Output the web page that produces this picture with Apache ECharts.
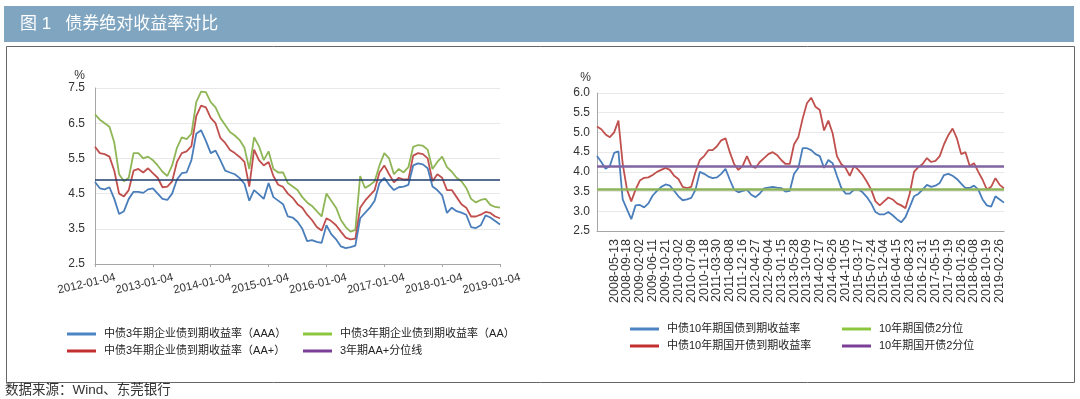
<!DOCTYPE html>
<html>
<head>
<meta charset="utf-8">
<script src="https://cdn.jsdelivr.net/npm/echarts@6/dist/echarts.min.js"></script>
<style>
html, body { margin: 0; padding: 0; background: #fff; }
#main { width: 1080px; height: 399px; }
</style>
</head>
<body>
<div id="main"></div>
<script>
const FONT = '"Liberation Sans", "Noto Sans CJK SC", sans-serif';

//----------- Left chart data (monthly, 2012-01 .. 2019-01)
const yearTicks = ["2012-01-04", "2013-01-04", "2014-01-04", "2015-01-04",
                   "2016-01-04", "2017-01-04", "2018-01-04", "2019-01-04"];
const corpAAA = [4.83,4.65,4.62,4.68,4.35,3.92,4.0,4.35,4.55,4.55,
                 4.52,4.62,4.65,4.5,4.35,4.32,4.5,4.9,5.08,5.1,
                 5.45,6.2,6.3,6.0,5.65,5.72,5.45,5.15,5.1,5.05,
                 4.94,4.78,4.3,4.6,4.48,4.35,4.8,4.4,4.3,4.2,
                 3.85,3.82,3.7,3.5,3.15,3.18,3.13,3.1,3.6,3.35,
                 3.2,3.0,2.95,2.98,3.02,3.8,3.95,4.1,4.3,4.8,
                 4.95,4.75,4.6,4.68,4.7,4.75,5.3,5.36,5.33,5.22,
                 4.7,4.6,4.45,3.95,4.1,4.0,3.96,3.9,3.55,3.52,
                 3.6,3.88,3.82,3.72,3.62];
const corpAA = [6.75,6.6,6.5,6.4,5.95,5.05,4.85,4.95,5.65,5.65,
                5.5,5.55,5.45,5.3,5.12,5.0,5.3,5.8,6.1,6.05,
                6.2,7.1,7.4,7.38,7.1,6.95,6.65,6.45,6.25,6.15,
                6.02,5.8,5.2,6.1,5.85,5.45,5.7,5.2,5.1,5.1,
                4.8,4.7,4.6,4.4,4.25,4.15,4.0,3.85,4.5,4.3,
                4.1,3.75,3.55,3.42,3.47,5.0,4.66,4.74,4.85,5.3,
                5.65,5.5,5.05,5.2,5.1,5.25,5.83,5.88,5.86,5.75,
                5.2,5.4,5.55,5.25,5.12,4.95,4.85,4.66,4.35,4.25,
                4.32,4.35,4.18,4.12,4.1];
const corpAAplus = [5.83,5.65,5.62,5.55,5.15,4.5,4.42,4.6,5.15,5.2,
                    5.1,5.22,5.08,4.95,4.68,4.7,4.85,5.4,5.65,5.7,
                    5.85,6.7,7.0,6.95,6.65,6.5,6.08,5.94,5.74,5.65,
                    5.54,5.4,4.7,5.75,5.45,5.3,5.4,5.0,4.75,4.69,
                    4.5,4.38,4.2,4.1,3.9,3.75,3.55,3.45,3.8,3.72,
                    3.6,3.42,3.25,3.2,3.22,4.1,4.3,4.45,4.6,5.1,
                    5.3,5.05,4.82,4.95,4.9,4.9,5.58,5.65,5.62,5.5,
                    4.85,5.05,4.95,4.6,4.6,4.4,4.2,4.1,3.85,3.85,
                    3.9,3.98,3.95,3.85,3.8];
const aaPlusQuantile = 4.88;

//----------- Right chart data (2008 .. 2019)
const bondTicks = ["2008-05-13","2008-09-18","2009-02-02","2009-06-11","2009-10-21",
                   "2010-03-02","2010-07-09","2010-11-18","2011-03-30","2011-08-08",
                   "2011-12-16","2012-04-27","2012-09-04","2013-01-15","2013-05-28",
                   "2013-10-09","2014-02-17","2014-06-26","2014-11-05","2015-03-17",
                   "2015-07-24","2015-12-04","2016-04-15","2016-08-23","2016-12-31",
                   "2017-05-15","2017-09-19","2018-01-26","2018-06-08","2018-10-19",
                   "2019-02-26"];
const govYield = [4.4,4.25,4.08,4.15,4.48,4.52,3.3,3.05,2.8,3.15,
                  3.16,3.1,3.2,3.4,3.52,3.62,3.68,3.65,3.52,3.38,
                  3.28,3.3,3.34,3.55,4.0,3.95,3.88,3.84,3.86,3.95,
                  4.08,3.8,3.55,3.48,3.52,3.55,3.42,3.36,3.45,3.58,
                  3.6,3.62,3.6,3.59,3.5,3.52,3.95,4.1,4.6,4.6,
                  4.55,4.45,4.4,4.1,4.3,4.22,3.9,3.6,3.45,3.45,
                  3.55,3.55,3.48,3.36,3.2,2.98,2.92,2.92,2.98,2.9,
                  2.8,2.72,2.85,3.11,3.38,3.44,3.55,3.67,3.62,3.65,
                  3.72,3.92,3.95,3.9,3.82,3.7,3.59,3.59,3.65,3.55,
                  3.3,3.15,3.12,3.38,3.3,3.22];
const cdbYield = [5.15,5.08,4.95,4.88,5.0,5.3,4.2,3.55,3.25,3.55,
                  3.78,3.85,3.86,3.92,4.0,4.05,4.1,4.05,3.9,3.82,
                  3.62,3.59,3.62,4.0,4.3,4.4,4.55,4.55,4.65,4.8,
                  4.85,4.5,4.2,4.05,4.15,4.4,4.15,4.1,4.25,4.35,
                  4.45,4.5,4.43,4.3,4.2,4.2,4.7,4.88,5.35,5.74,
                  5.88,5.65,5.57,5.05,5.3,4.98,4.4,4.2,4.1,3.9,
                  4.15,4.05,3.92,3.75,3.55,3.25,3.15,3.25,3.35,3.3,
                  3.2,3.15,3.08,3.45,4.0,4.12,4.2,4.35,4.25,4.28,
                  4.4,4.7,4.93,5.1,4.85,4.45,4.5,4.15,4.22,4.0,
                  3.8,3.55,3.62,3.84,3.67,3.58];
const govQuantile = 3.55;
const cdbQuantile = 4.13;

//----------- Categories
const corpCats = [];
yearTicks.forEach((d, k) => {
    const year = d.slice(0, 4);
    const months = k < yearTicks.length - 1 ? 12 : 1;
    for (let m = 1; m <= months; m++) corpCats.push(`${year}-${String(m).padStart(2, "0")}-04`);
});
const isBondTick = i => i >= 4 && (i - 4) % 3 === 0;
const bondCats = govYield.map((_, i) => isBondTick(i) ? bondTicks[(i - 4) / 3] : "p" + i);

//----------- Helpers
const lineSeries = (name, data, color, axis) => ({
    name: name,
    type: "line",
    xAxisIndex: axis,
    yAxisIndex: axis,
    data: data,
    symbol: "none",
    color: color,
    lineStyle: {color: color, width: 1.8},
    emphasis: {disabled: true}
});
const levelSeries = (name, value, color, width, axis) => ({
    name: name,
    type: "line",
    xAxisIndex: axis,
    yAxisIndex: axis,
    data: [],
    color: color,
    markLine: {
        silent: true,
        symbol: ["none", "none"],
        label: {show: false},
        lineStyle: {color: color, width: width, type: "solid"},
        data: [{yAxis: value}]
    }
});
const legendCol = (items, left, top) => ({
    orient: "vertical",
    left: left,
    top: top,
    icon: "rect",
    itemWidth: 29,
    itemHeight: 3,
    itemGap: 3,
    selectedMode: false,
    textStyle: {fontSize: 11, color: "#222", fontFamily: FONT, lineHeight: 14, padding: [0, 0, 0, 3]},
    data: items.map(d => ({name: d[0], itemStyle: {color: d[1]}}))
});
const valueAxis = (grid, min, max, interval, margin, nameGap, namePad) => ({
    type: "value",
    gridIndex: grid,
    min: min,
    max: max,
    interval: interval,
    name: "%",
    nameLocation: "end",
    nameGap: nameGap,
    nameTextStyle: {color: "#333", fontSize: 12, fontFamily: FONT, align: "right", verticalAlign: "bottom", padding: [0, namePad, 0, 0]},
    axisLine: {show: true, lineStyle: {color: "#a6a6a6", width: 1}},
    axisTick: {show: false},
    axisLabel: {color: "#333", fontSize: 12, fontFamily: FONT, margin: margin, formatter: v => v.toFixed(1)},
    splitLine: {show: true, lineStyle: {color: "#e8e8e8", width: 1}}
});

const names = {
    aaa: "中债3年期企业债到期收益率（AAA）",
    aa: "中债3年期企业债到期收益率（AA）",
    aap: "中债3年期企业债到期收益率（AA+）",
    q3: "3年期AA+分位线",
    gov: "中债10年期国债到期收益率",
    cdb: "中债10年期国开债到期收益率",
    gq: "10年期国债2分位",
    cq: "10年期国开债2分位"
};

const myChart = echarts.init(document.getElementById("main"), null, {renderer: "canvas"});

const option = {
    animation: false,
    backgroundColor: "#fff",
    textStyle: {fontFamily: FONT},
    graphic: [
        //title bar
        {type: "rect", left: 4, top: 6, shape: {width: 1070, height: 36}, style: {fill: "#7fa5c0"}, silent: true},
        {type: "text", left: 20, top: 16, style: {text: "图 1   债券绝对收益率对比", fill: "#fff", font: `17px ${FONT}`}, silent: true},
        //frame
        {type: "rect", left: 4, top: 44, shape: {x: 0.5, y: 0.5, width: 1068, height: 336}, style: {fill: "none", stroke: "#666", lineWidth: 1}, silent: true},
        //source
        {type: "text", left: 5, top: 384, style: {text: "数据来源：Wind、东莞银行", fill: "#333", font: `13.5px ${FONT}`}, silent: true}
    ],
    legend: [
        legendCol([[names.aaa, "#4d84c4"], [names.aap, "#c22f2f"]], 62, 322),
        legendCol([[names.aa, "#8cc63f"], [names.q3, "#7b3f99"]], 298, 322),
        legendCol([[names.gov, "#4d84c4"], [names.cdb, "#c22f2f"]], 625, 317),
        legendCol([[names.gq, "#8cc63f"], [names.cq, "#7b3f99"]], 837, 317)
    ],
    grid: [
        {left: 95, top: 88, width: 405, height: 176},
        {left: 597, top: 93, width: 407, height: 138}
    ],
    xAxis: [
        {
            type: "category",
            gridIndex: 0,
            data: corpCats,
            boundaryGap: false,
            axisLine: {lineStyle: {color: "#a6a6a6"}},
            axisTick: {show: true, interval: 11, length: 3, lineStyle: {color: "#a6a6a6"}},
            axisLabel: {
                interval: 11,
                rotate: 13,
                align: "center",
                verticalAlign: "top",
                margin: 12,
                padding: [0, 20, 0, 0],
                color: "#333",
                fontSize: 11.5,
                fontFamily: FONT
            },
            splitLine: {show: false}
        },
        {
            type: "category",
            gridIndex: 1,
            data: bondCats,
            boundaryGap: false,
            axisLine: {lineStyle: {color: "#a6a6a6"}},
            axisTick: {show: false},
            axisLabel: {
                interval: i => isBondTick(i),
                rotate: 90,
                margin: 8,
                color: "#333",
                fontSize: 12.5,
                fontFamily: FONT
            },
            splitLine: {show: false}
        }
    ],
    yAxis: [
        valueAxis(0, 2.5, 7.5, 1, 10, 5, 10),
        valueAxis(1, 2.5, 6.0, 0.5, 7, 9, 6)
    ],
    series: [
        lineSeries(names.aa, corpAA, "#8fb656", 0),
        lineSeries(names.aap, corpAAplus, "#c0504d", 0),
        lineSeries(names.aaa, corpAAA, "#4a7ebb", 0),
        levelSeries(names.q3, aaPlusQuantile, "#1f3d6d", 1.5, 0),
        lineSeries(names.cdb, cdbYield, "#c0504d", 1),
        lineSeries(names.gov, govYield, "#4a7ebb", 1),
        levelSeries(names.gq, govQuantile, "#8db35a", 2.5, 1),
        levelSeries(names.cq, cdbQuantile, "#8064a2", 2.5, 1)
    ]
};

myChart.setOption(option);
</script>
</body>
</html>
